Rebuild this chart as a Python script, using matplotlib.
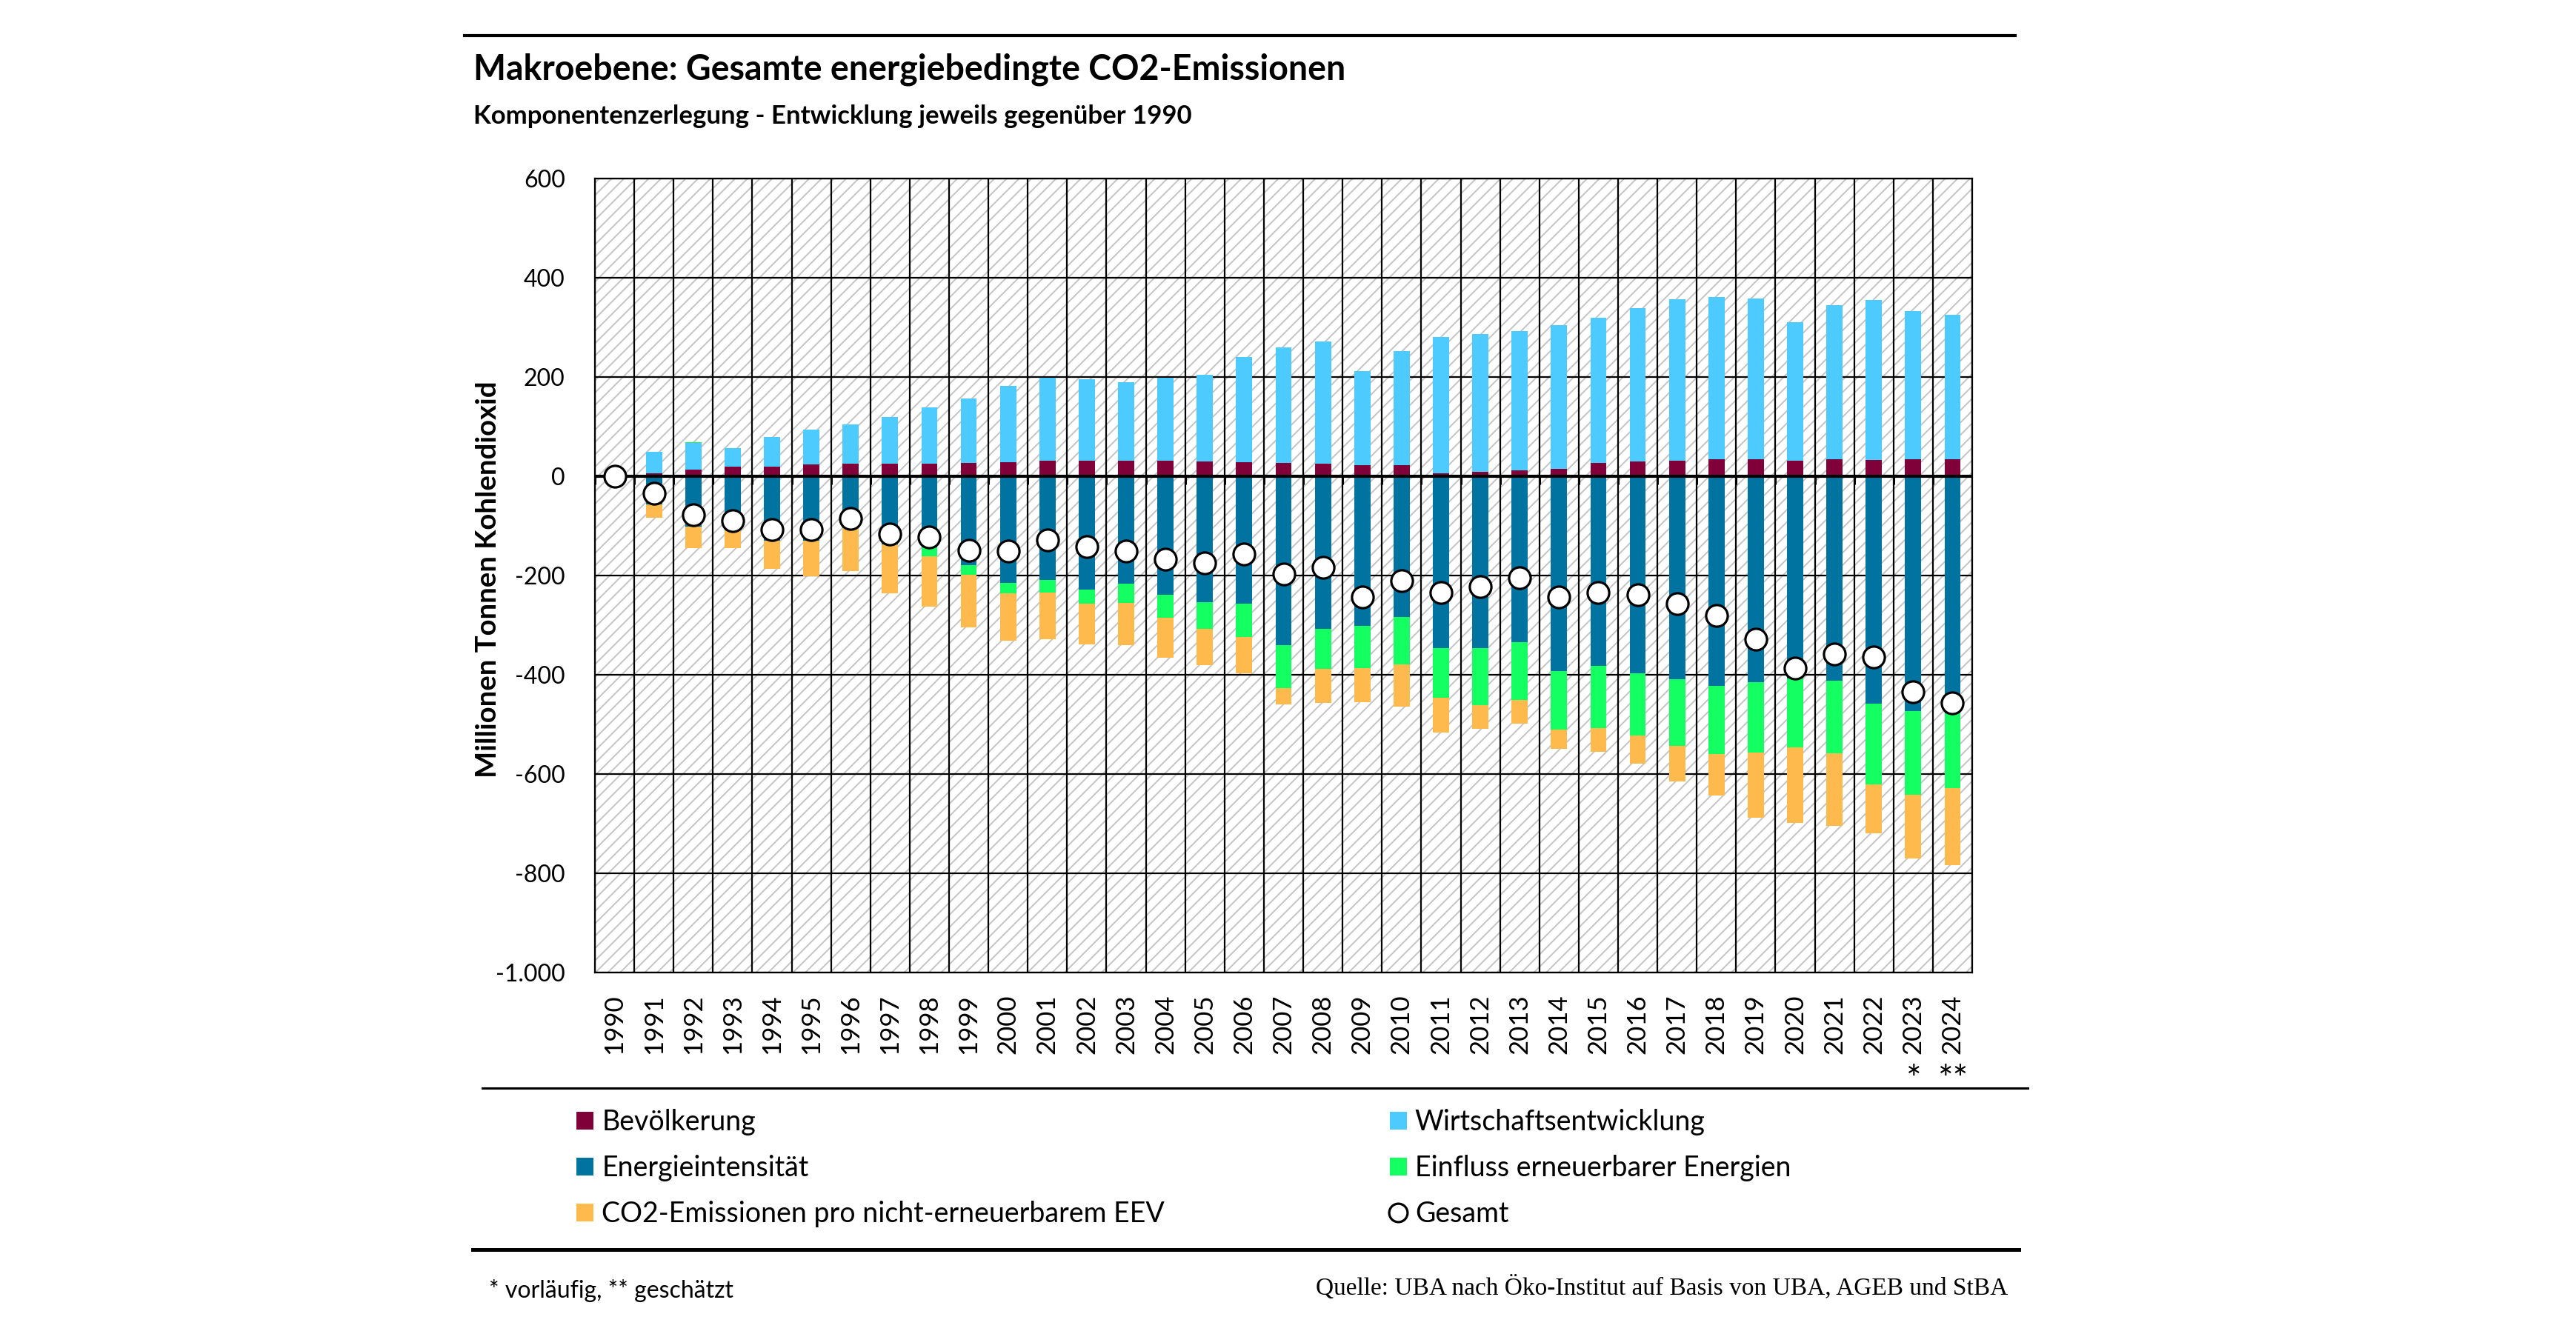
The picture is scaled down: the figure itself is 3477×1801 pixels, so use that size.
import numpy as np
import matplotlib.pyplot as plt
from matplotlib.patches import Rectangle
from matplotlib.lines import Line2D
from matplotlib.ticker import FixedLocator, FuncFormatter

# ------ data (Mio. t CO2, change vs. 1990) --------------------------
years = list(range(1990, 2025))

bevoelkerung = [0, 6, 14, 19, 20, 24, 26, 26, 26, 27, 28, 31, 31, 31, 31, 30, 28, 27,
                26, 22, 22, 6, 9, 12, 15, 27, 30, 32, 34, 35, 32, 34, 33, 34, 34]
wirtschaft = [0, 43, 53, 38, 59, 70, 79, 94, 113, 129, 154, 167, 164, 158, 167, 174, 213,
              233, 245, 190, 230, 274, 277, 281, 289, 293, 309, 325, 327, 323, 279, 311,
              322, 299, 292]
energieintensitaet = [0, -57, -101, -109, -130, -130, -104, -137, -144, -179, -215, -209,
                      -229, -217, -239, -253, -256, -341, -307, -302, -284, -347, -347,
                      -335, -392, -382, -397, -409, -422, -415, -408, -412, -458, -473, -477]
erneuerbare = [0, 1, 1, 0, 0, 0, 0, 0, -17, -20, -21, -26, -28, -38, -46, -55, -68, -86,
               -81, -84, -95, -100, -114, -116, -118, -125, -125, -135, -137, -142, -139,
               -146, -163, -169, -151]
co2_pro_eev = [0, -26, -44, -36, -57, -72, -87, -99, -102, -106, -96, -93, -82, -85, -81,
               -73, -73, -32, -69, -69, -85, -69, -48, -47, -39, -48, -57, -71, -84, -131,
               -152, -147, -99, -128, -156]
gesamt = [0, -34, -78, -89, -107, -108, -85, -116, -123, -149, -151, -128, -142, -150,
          -167, -174, -157, -197, -184, -243, -211, -235, -223, -205, -244, -235, -239,
          -257, -280, -328, -386, -358, -364, -434, -457]

series = [
    ("Bevölkerung", bevoelkerung, "#800039"),
    ("Wirtschaftsentwicklung", wirtschaft, "#4dcbff"),
    ("Energieintensität", energieintensitaet, "#0073a1"),
    ("Einfluss erneuerbarer Energien", erneuerbare, "#14ff62"),
    ("CO2-Emissionen pro nicht-erneuerbarem EEV", co2_pro_eev, "#ffba4d"),
]
footnote_marks = {2023: "*", 2024: "**"}

plt.rcParams['font.family'] = ['Lato', 'DejaVu Sans']
plt.rcParams['hatch.linewidth'] = 1.4
plt.rcParams['hatch.color'] = '#c4c4c4'

W, H = 3477, 1801
fig = plt.figure(figsize=(W / 100, H / 100), dpi=100)
fig.patch.set_facecolor('white')

# plot area in pixels: left 803, right 2662, top 241, bottom 1313
ax = fig.add_axes([803 / W, (H - 1313) / H, (2662 - 803) / W, (1313 - 241) / H])
ax.set_facecolor('white')
ax.add_patch(Rectangle((0, 0), 1, 1, transform=ax.transAxes, facecolor='white',
                       hatch='//', edgecolor='#c4c4c4', linewidth=0, zorder=0))

x = np.arange(len(years))
pos_base = np.zeros(len(years))
neg_base = np.zeros(len(years))
handles = {}
for name, vals, col in series:
    v = np.array(vals, dtype=float)
    bottom = np.where(v >= 0, pos_base, neg_base)
    bars = ax.bar(x, v, 0.41, bottom=bottom, color=col, linewidth=0, zorder=3, label=name)
    handles[name] = bars
    pos_base += np.clip(v, 0, None)
    neg_base += np.clip(v, None, 0)

ax.axhline(0, color='black', lw=3, zorder=4)
ax.vlines(np.arange(len(years) + 1) - 0.5, -17, 0, color='black', lw=2.2, zorder=4)
pt, = ax.plot(x, gesamt, 'o', ms=21, mfc='white', mec='black', mew=2.3, zorder=5,
              label='Gesamt')

ax.set_xlim(-0.5, len(years) - 0.5)
ax.set_ylim(-1000, 600)
ax.set_yticks(np.arange(-1000, 601, 200))
ax.yaxis.set_major_formatter(FuncFormatter(lambda v, p: f"{int(v):,}".replace(',', '.')))
ax.set_xticks(x)
ax.set_xticklabels([str(y) for y in years], rotation=90)
ax.xaxis.set_minor_locator(FixedLocator(np.arange(len(years) + 1) - 0.5))
ax.tick_params(axis='x', which='both', length=0, pad=21, labelsize=25)
ax.tick_params(axis='y', length=0, pad=29, labelsize=23)
ax.set_axisbelow(True)
ax.grid(axis='y', which='major', color='black', lw=1.6, zorder=1)
ax.grid(axis='x', which='minor', color='black', lw=1.6, zorder=1)
ax.grid(axis='x', which='major', visible=False)
for s in ax.spines.values():
    s.set_linewidth(1.6)
    s.set_zorder(2)

ax.set_ylabel("Millionen Tonnen Kohlendioxid", fontsize=27.5, fontweight='bold')
ax.yaxis.set_label_coords((676 - 803) / 1859, (1313 - 782) / 1072)

for yr, mark in footnote_marks.items():
    ax.text(years.index(yr), -0.136, mark, transform=ax.get_xaxis_transform(),
            ha='center', va='center', fontsize=35)

# titles
fig.text(639 / W, 1 - 107 / H, "Makroebene: Gesamte energiebedingte CO2-Emissionen",
         fontsize=33.5, fontweight='bold', va='baseline')
fig.text(639 / W, 1 - 167 / H, "Komponentenzerlegung - Entwicklung jeweils gegenüber 1990",
         fontsize=25, fontweight='bold', va='baseline')

# horizontal rules
for y0, x0, x1, lw in [(48, 627, 2720, 3), (1469, 651, 2737, 2.2), (1687, 638, 2725, 3.6)]:
    fig.add_artist(Line2D([x0 / W, x1 / W], [1 - y0 / H, 1 - y0 / H], color='black', lw=lw))

# legend (column-wise order to get the row layout of the original)
order = ["Bevölkerung", "Energieintensität", "CO2-Emissionen pro nicht-erneuerbarem EEV",
         "Wirtschaftsentwicklung", "Einfluss erneuerbarer Energien"]
leg_h = [handles[n] for n in order] + [pt]
leg_l = order + ["Gesamt"]
leg = fig.legend(leg_h, leg_l, ncol=2, loc='upper left', bbox_to_anchor=(778 / W, 1 - 1497 / H),
                 frameon=False, fontsize=27, handlelength=0.61, handleheight=0.61,
                 handletextpad=0.3, columnspacing=8.1, labelspacing=0.69,
                 borderaxespad=0, borderpad=0, markerscale=0.85)

fig.text(660 / W, 1 - 1752 / H, "* vorläufig, ** geschätzt", fontsize=23, va='baseline')
fig.text(2710 / W, 1 - 1748 / H, "Quelle: UBA nach Öko-Institut auf Basis von UBA, AGEB und StBA",
         fontsize=24, va='baseline', ha='right', family='Liberation Serif')

fig.savefig('out.png', dpi=100)
